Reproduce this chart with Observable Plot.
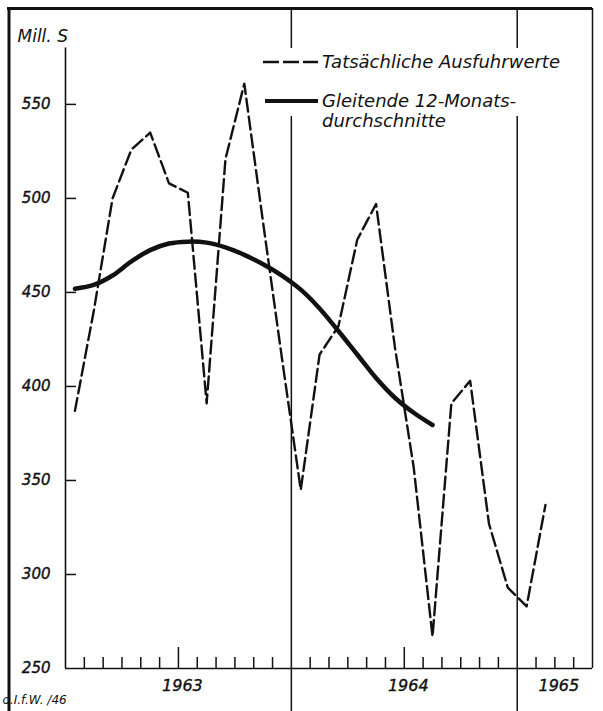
<!DOCTYPE html>
<html><head><meta charset="utf-8">
<script src="https://cdn.jsdelivr.net/npm/d3@7"></script>
<script src="https://cdn.jsdelivr.net/npm/@observablehq/plot@0.6"></script>
<style>html,body{margin:0;padding:0;background:#fff}</style>
</head><body><div id="chart"></div>
<script>
// Monthly actual export values (Mill. S)
const months = ["1963-01","1963-02","1963-03","1963-04","1963-05","1963-06","1963-07","1963-08","1963-09","1963-10","1963-11","1963-12",
  "1964-01","1964-02","1964-03","1964-04","1964-05","1964-06","1964-07","1964-08","1964-09","1964-10","1964-11","1964-12",
  "1965-01","1965-02"];
const exportValues = [387, 440, 500, 526, 535, 508, 503, 391, 521, 561, 487, 415,
  345, 417, 432, 478, 497, 421, 357, 267, 391, 403, 327, 293,
  283, 337];
// Moving 12-month averages
const avgMonths = months.slice(0, 20);
const avgValues = [452, 454, 459, 466.5, 472.5, 476, 477, 476.5, 474, 470, 465, 459,
  451.5, 441.5, 429.5, 417, 404.5, 394, 386, 379.5];
const yLabels = ["250","300","350","400","450","500","550"];
const yTickValues = [300, 350, 400, 450, 500, 550];
const years = ["1963","1964","1965"];
const legendLabels = ["Tatsächliche Ausfuhrwerte", "Gleitende 12-Monats-", "durchschnitte"];
const yUnit = "Mill. S";
const source = "o.I.f.W. /46";

const START_YEAR = 1963;
const monthsShown = 28; // Jan 1963 .. Apr 1965
const toIdx = s => { const [y, m] = s.split("-").map(Number); return (y - START_YEAR) * 12 + (m - 1); };
const exportData = months.map((m, i) => ({x: toIdx(m) + 0.5, y: exportValues[i]}));
const avgData = avgMonths.map((m, i) => ({x: toIdx(m) + 0.5, y: avgValues[i]}));
const shortTicks = d3.range(1, monthsShown).filter(t => t % 6 !== 0);
const midTicks = d3.range(1, monthsShown).filter(t => t % 12 === 6);
const yearBounds = d3.range(1, monthsShown).filter(t => t % 12 === 0);
const yearCenters = years.map((y, i) => (i * 12 + Math.min((i + 1) * 12, monthsShown)) / 2);
const yTop = 601, yAxisTop = 580;

const ink = "#111";
const plot = Plot.plot({
  width: 603, height: 711,
  marginLeft: 65, marginRight: 11, marginTop: 8, marginBottom: 43,
  x: {domain: [0, monthsShown], axis: null, label: null},
  y: {domain: [250, yTop], axis: null, label: null},
  style: {fontFamily: "DejaVu Sans", fontStyle: "italic", color: ink, background: "#fff", overflow: "visible"},
  marks: [
    // outer frame
    Plot.ruleY([yTop], {stroke: ink, strokeWidth: 3, insetLeft: -58}),
    Plot.ruleX([0], {stroke: ink, strokeWidth: 3, dx: -56.5, insetBottom: -43}),
    Plot.ruleX([monthsShown], {stroke: ink, strokeWidth: 1.5}),
    // year boundaries
    Plot.ruleX(yearBounds, {stroke: ink, strokeWidth: 1.5, insetBottom: -43}),
    // axes lines
    Plot.ruleX([0], {y1: 250, y2: yAxisTop, stroke: ink, strokeWidth: 1.6}),
    Plot.ruleY([250], {stroke: ink, strokeWidth: 1.6}),
    Plot.axisY(yTickValues, {fill: "none", tickSize: -11, strokeWidth: 1.5}),
    Plot.axisX(shortTicks, {fill: "none", tickSize: -11, strokeWidth: 1.5}),
    Plot.axisX(midTicks, {fill: "none", tickSize: -21, strokeWidth: 1.5}),
    Plot.text(yLabels, {y: d => +d, frameAnchor: "left", dx: -15, textAnchor: "end", fontSize: 15, fill: ink, stroke: ink, strokeWidth: 0.4}),
    Plot.text(years, {x: (d, i) => yearCenters[i], frameAnchor: "bottom", dx: 4, dy: 22, fontSize: 16, fill: ink, stroke: ink, strokeWidth: 0.4}),
    Plot.text([yUnit], {frameAnchor: "top-left", dx: -48, dy: 21, textAnchor: "start", fontSize: 17, fill: ink}),
    Plot.text([source], {frameAnchor: "bottom-left", dx: -63, dy: 35, textAnchor: "start", fontSize: 12, fill: ink}),
    // data
    Plot.line(exportData, {x: "x", y: "y", stroke: ink, strokeWidth: 2.4, strokeDasharray: "13,5"}),
    Plot.line(avgData, {x: "x", y: "y", stroke: ink, strokeWidth: 4.5, curve: "catmull-rom"})
  ]
});
document.getElementById("chart").appendChild(plot);

// legend
const svg = d3.select(plot);
const g = svg.append("g").attr("font-family", "DejaVu Sans").attr("font-style", "italic")
  .attr("font-size", 18).attr("fill", ink).attr("text-anchor", "start");
g.append("rect").attr("x", 262).attr("y", 48).attr("width", 314).attr("height", 68).attr("fill", "#fff");
g.append("line").attr("x1", 263).attr("x2", 318).attr("y1", 62).attr("y2", 62).attr("stroke", ink).attr("stroke-width", 2.4).attr("stroke-dasharray", "16,4");
g.append("line").attr("x1", 265).attr("x2", 318).attr("y1", 101).attr("y2", 101).attr("stroke", ink).attr("stroke-width", 4);
g.append("text").attr("x", 322).attr("y", 68).text(legendLabels[0]);
g.append("text").attr("x", 322).attr("y", 107).text(legendLabels[1]);
g.append("text").attr("x", 322).attr("y", 127).text(legendLabels[2]);
</script></body></html>
